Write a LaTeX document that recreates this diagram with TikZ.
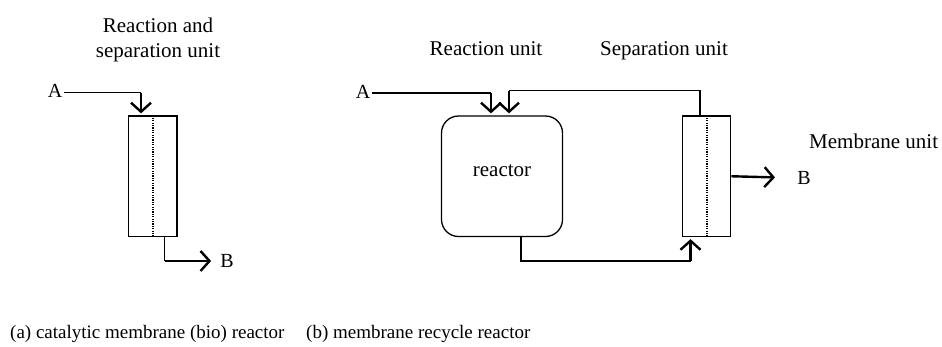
\documentclass[tikz,border=0pt]{standalone}
\usepackage{fontspec}
\setmainfont{Liberation Serif}
\usetikzlibrary{arrows.meta}
\begin{document}
\begin{tikzpicture}[x=1pt,y=-1pt,
  unitbox/.style={draw,line width=1.3pt,minimum width=48.5pt,minimum height=120.5pt,inner sep=0pt},
  reactorbox/.style={draw,line width=1.3pt,rounded corners=17pt,minimum width=121pt,minimum height=120.5pt,inner sep=0pt},
  membrane/.style={line width=2pt,dash pattern=on 1.2pt off 1.2pt},
  thinline/.style={line width=1.3pt},
  arr/.style={line width=2.4pt,-{Straight Barb[length=9pt,width=20pt]}},
  lab/.style={inner sep=2pt,font=\fontsize{20}{24}\selectfont},
  title/.style={align=center,font=\fontsize{21}{25}\selectfont},
  capt/.style={anchor=base west,inner sep=0pt,font=\fontsize{19}{23}\selectfont}]
\useasboundingbox (0,0) rectangle (942,346);
% ---------- (a) ----------
\node[title] (T1) at (158,40) {Reaction and\\separation unit};
\node[unitbox] (L) at (152.75,176.25) {};
\draw[membrane] (L.north) -- (L.south);
\node[lab] (A1) at (55,91) {A};
\coordinate (A1c) at (141,92.5);
\draw[thinline] (A1.east |- A1c) -- (A1c);
\draw[arr,shorten >=2pt] (A1c) -- (A1c |- L.north);
\coordinate (LBc) at (164.5,261);
\node[lab] (B1) at (227,261) {B};
\draw[thinline] (LBc |- L.south) -- (LBc);
\draw[arr,shorten >=7pt] (LBc) -- (B1.west);
\node[capt] (C1) at (10,338) {(a) catalytic membrane (bio) reactor};
% ---------- (b) ----------
\node[title,anchor=base] (T2) at (486,55) {Reaction unit};
\node[title,anchor=base] (T3) at (664,55) {Separation unit};
\node[reactorbox] (R) at (502,176.25) {};
\node[lab,font=\fontsize{21}{25}\selectfont] at (R.center) [yshift=6pt] (Rt) {reactor};
\node[unitbox] (S) at (706.5,176.25) {};
\draw[membrane] (S.north) -- (S.south);
\node[lab] (A2) at (363,92) {A};
\coordinate (A2c) at (491,93);
\draw[thinline] (A2.east |- A2c) -- (A2c);
\draw[arr,shorten >=2pt] (A2c) -- (A2c |- R.north);
\coordinate (Rc1) at (700,90.5);
\coordinate (Rc2) at (509,90.5);
\draw[thinline] (Rc1 |- S.north) -- (Rc1) -- (Rc2);
\draw[arr,shorten >=2pt] (Rc2) -- (Rc2 |- R.north);
\node[lab] (B2) at (804,178) {B};
\draw[arr,shorten >=22pt] (S.east) -- (B2.west -| 797,0);
\node[lab,anchor=west,font=\fontsize{21}{25}\selectfont] (M) at (807,141.5) {Membrane unit};
\coordinate (Bc1) at (521,261);
\coordinate (Bc2) at (690.5,261);
\draw[thinline] (Bc1 |- R.south) -- (Bc1) -- (Bc2);
\draw[arr,shorten >=2pt] (Bc2) -- (Bc2 |- S.south);
\node[capt] (C2) at (306,338) {(b) membrane recycle reactor};
\end{tikzpicture}
\end{document}
